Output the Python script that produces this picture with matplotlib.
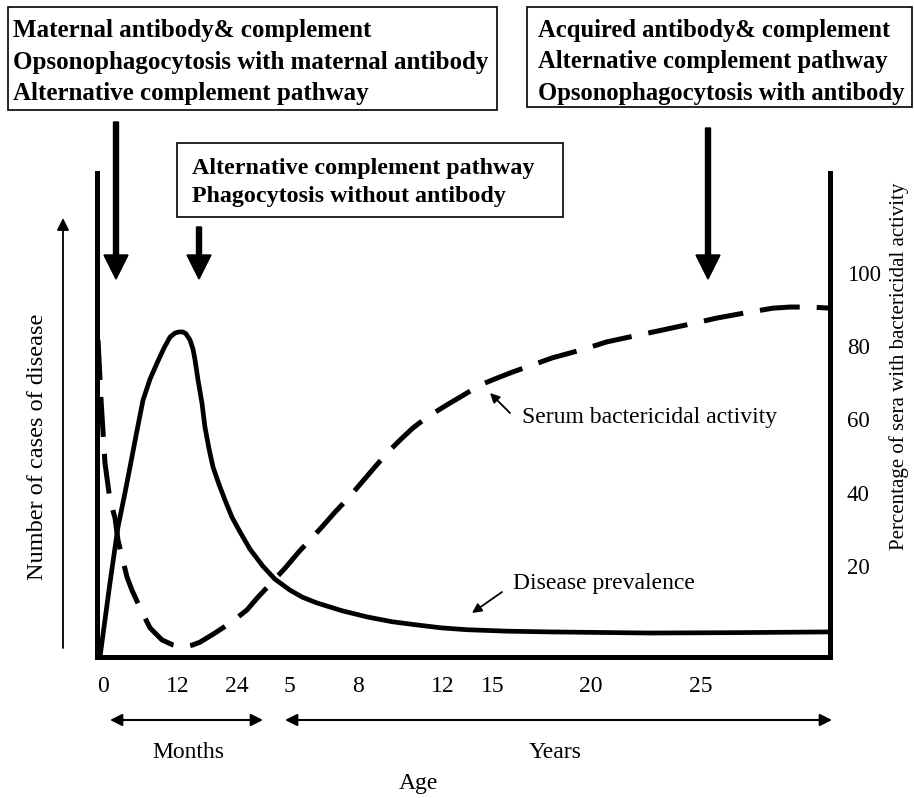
import matplotlib
matplotlib.use("Agg")
import matplotlib.pyplot as plt
from matplotlib.patches import Rectangle, FancyArrow
from matplotlib.transforms import IdentityTransform

plt.rcParams['font.family'] = ['Liberation Serif', 'DejaVu Serif']

# ---- data (schematic position 0-100 along the age axis; y in % of sera) ----
age_tick_pos = [0.8, 11.0, 19.1, 26.3, 35.6, 47.2, 54.0, 67.3, 82.3]
age_tick_labels = ['0', '12', '24', '5', '8', '12', '15', '20', '25']
pct_ticks = [20, 40, 60, 80, 100]

serum_x = [0.14, 0.55, 1.09, 1.77, 2.46, 2.86, 4.09, 4.77, 6.0, 7.23, 8.87, 10.3,
           11.73, 13.0, 14.05, 16.10, 18.3, 20.46, 21.96, 23.8, 25.65, 27.6, 29.06,
           30.8, 32.47, 34.4, 36.15, 37.9, 39.70, 41.4, 43.11, 45.0, 47.75, 50.2,
           52.25, 54.7, 56.75, 59.3, 62.07, 65.9, 69.58, 73.3, 77.08, 80.8, 84.58,
           88.4, 92.22, 94.54, 97.3, 100.0]
serum_y = [81.7, 65.3, 48.1, 38.0, 33.1, 27.1, 17.0, 13.4, 8.0, 3.1, -0.2, -1.5,
           -2.1, -1.6, -0.8, 1.7, 4.6, 8.0, 11.5, 15.4, 19.4, 24.0, 27.1,
           30.9, 34.7, 38.8, 42.9, 47.0, 51.1, 54.5, 57.7, 60.6, 64.0, 66.9,
           69.4, 71.4, 73.0, 74.8, 76.8, 78.9, 81.2, 82.8, 84.4, 86.0, 87.7,
           89.1, 90.4, 90.7, 90.7, 90.4]

disease_x = [0.41, 1.77, 2.86, 3.82, 4.50, 5.46, 6.28, 7.23, 8.19, 9.14, 9.96,
             10.64, 11.19, 11.73, 12.14, 12.69, 13.10, 13.37, 13.78, 14.32, 14.73,
             15.28, 15.83, 16.64, 17.46, 18.42, 19.51, 20.87, 22.65, 24.28, 26.33,
             28.0, 30.01, 33.4, 36.83, 40.2, 43.66, 47.0, 50.48, 56.0, 61.80, 75.44,
             87.0, 100.0]
disease_y = [-4.8, 15.4, 30.6, 40.0, 47.0, 57.0, 65.3, 71.0, 75.4, 79.5, 82.5,
             83.6, 83.9, 83.9, 83.4, 81.7, 79.2, 76.3, 70.8, 64.5, 57.9,
             52.0, 47.0, 42.3, 38.0, 33.3, 29.3, 24.6, 19.9, 16.4, 13.4,
             11.5, 9.9, 7.8, 6.1, 4.8, 3.9, 3.1, 2.6, 2.2, 2.0, 1.7, 1.8, 2.0]

box1_lines = ['Maternal antibody& complement',
              'Opsonophagocytosis with maternal antibody',
              'Alternative complement pathway']
box2_lines = ['Acquired antibody& complement',
              'Alternative complement pathway',
              'Opsonophagocytosis with antibody']
box3_lines = ['Alternative complement pathway',
              'Phagocytosis without antibody']

W, H = 914, 798
fig = plt.figure(figsize=(W / 100, H / 100), dpi=100)


def fx(px):
    return px / W


def fy(py):
    return 1 - py / H


ax = fig.add_axes([fx(97), fy(657), fx(830) - fx(97), fy(173) - fy(657)])
ax.set_xlim(0, 100)
ax.set_ylim(-4.85, 127.3)

ax.plot(disease_x, disease_y, color='black', lw=3.4, solid_joinstyle='round',
        solid_capstyle='round')
ax.plot(serum_x, serum_y, color='black', lw=3.6, dashes=(8, 3.4),
        dash_joinstyle='round')

for s in ['left', 'right', 'bottom']:
    ax.spines[s].set_linewidth(3.6)
ax.spines['top'].set_visible(False)

ax.set_xticks(age_tick_pos)
ax.set_xticklabels(age_tick_labels, fontsize=17)
ax.tick_params(axis='x', length=0, pad=14)
ax.yaxis.tick_right()
ax.set_yticks(pct_ticks)
ax.set_yticklabels([str(t) for t in pct_ticks], fontsize=16.5)
ax.tick_params(axis='y', length=0, pad=12)

# ---- annotation labels ----
fig.text(fx(522), fy(417), 'Serum bactericidal activity', fontsize=17, va='center', ha='left')
fig.text(fx(513), fy(583), 'Disease prevalence', fontsize=17, va='center', ha='left')
fig.add_artist(plt.Annotation('', xy=(490, H - 393), xytext=(510, H - 413),
                              xycoords='figure pixels', textcoords='figure pixels',
                              arrowprops=dict(arrowstyle='-|>', lw=1.3, color='black',
                                              mutation_scale=14, shrinkA=0, shrinkB=0)))
fig.add_artist(plt.Annotation('', xy=(472, H - 613), xytext=(502, H - 592),
                              xycoords='figure pixels', textcoords='figure pixels',
                              arrowprops=dict(arrowstyle='-|>', lw=1.3, color='black',
                                              mutation_scale=14, shrinkA=0, shrinkB=0)))

# ---- axis labels ----
fig.text(fx(38), fy(447), 'Number of cases of disease', rotation=90, fontsize=17.5,
         ha='center', va='center')
fig.text(fx(899), fy(366), 'Percentage of sera with bactericidal activity', rotation=90,
         fontsize=15, ha='center', va='center')
fig.add_artist(plt.Annotation('', xy=(63, H - 218), xytext=(63, H - 648),
                              xycoords='figure pixels', textcoords='figure pixels',
                              arrowprops=dict(arrowstyle='-|>', lw=1.3, color='black',
                                              mutation_scale=18, shrinkA=0, shrinkB=0)))

# ---- bottom: months / years ----
for x0, x1 in [(110, 263), (285, 832)]:
    fig.add_artist(plt.Annotation('', xy=(x1, H - 720), xytext=(x0, H - 720),
                                  xycoords='figure pixels', textcoords='figure pixels',
                                  arrowprops=dict(arrowstyle='<|-|>', lw=1.5, color='black',
                                                  mutation_scale=18, shrinkA=0, shrinkB=0)))
fig.text(fx(188), fy(753), 'Months', fontsize=17, ha='center', va='center')
fig.text(fx(555), fy(752), 'Years', fontsize=17, ha='center', va='center')
fig.text(fx(418), fy(783), 'Age', fontsize=17, ha='center', va='center')


# ---- boxes ----
def box(x0, y0, x1, y1, lines, tx, baselines, fs):
    fig.add_artist(Rectangle((fx(x0), fy(y1)), fx(x1) - fx(x0), fy(y0) - fy(y1),
                             transform=fig.transFigure, fill=False, lw=1.2,
                             edgecolor='black'))
    for line, b in zip(lines, baselines):
        fig.text(fx(tx), fy(b), line, fontsize=fs, fontweight='bold',
                 ha='left', va='baseline')


box(8, 7, 497, 110, box1_lines, 13, [37, 69, 100], 18)
box(527, 7, 912, 107, box2_lines, 538, [37, 68, 100], 17.7)
box(177, 143, 563, 217, box3_lines, 192, [174, 202], 17.3)

# ---- big downward arrows ----
for x, ytop in [(116, 122), (199, 227), (708, 128)]:
    tip = 279
    fig.add_artist(FancyArrow(x, H - ytop, 0, -(tip - ytop), width=5, head_width=24,
                              head_length=24, length_includes_head=True,
                              color='black', transform=IdentityTransform()))

fig.savefig('out.png', dpi=100)
